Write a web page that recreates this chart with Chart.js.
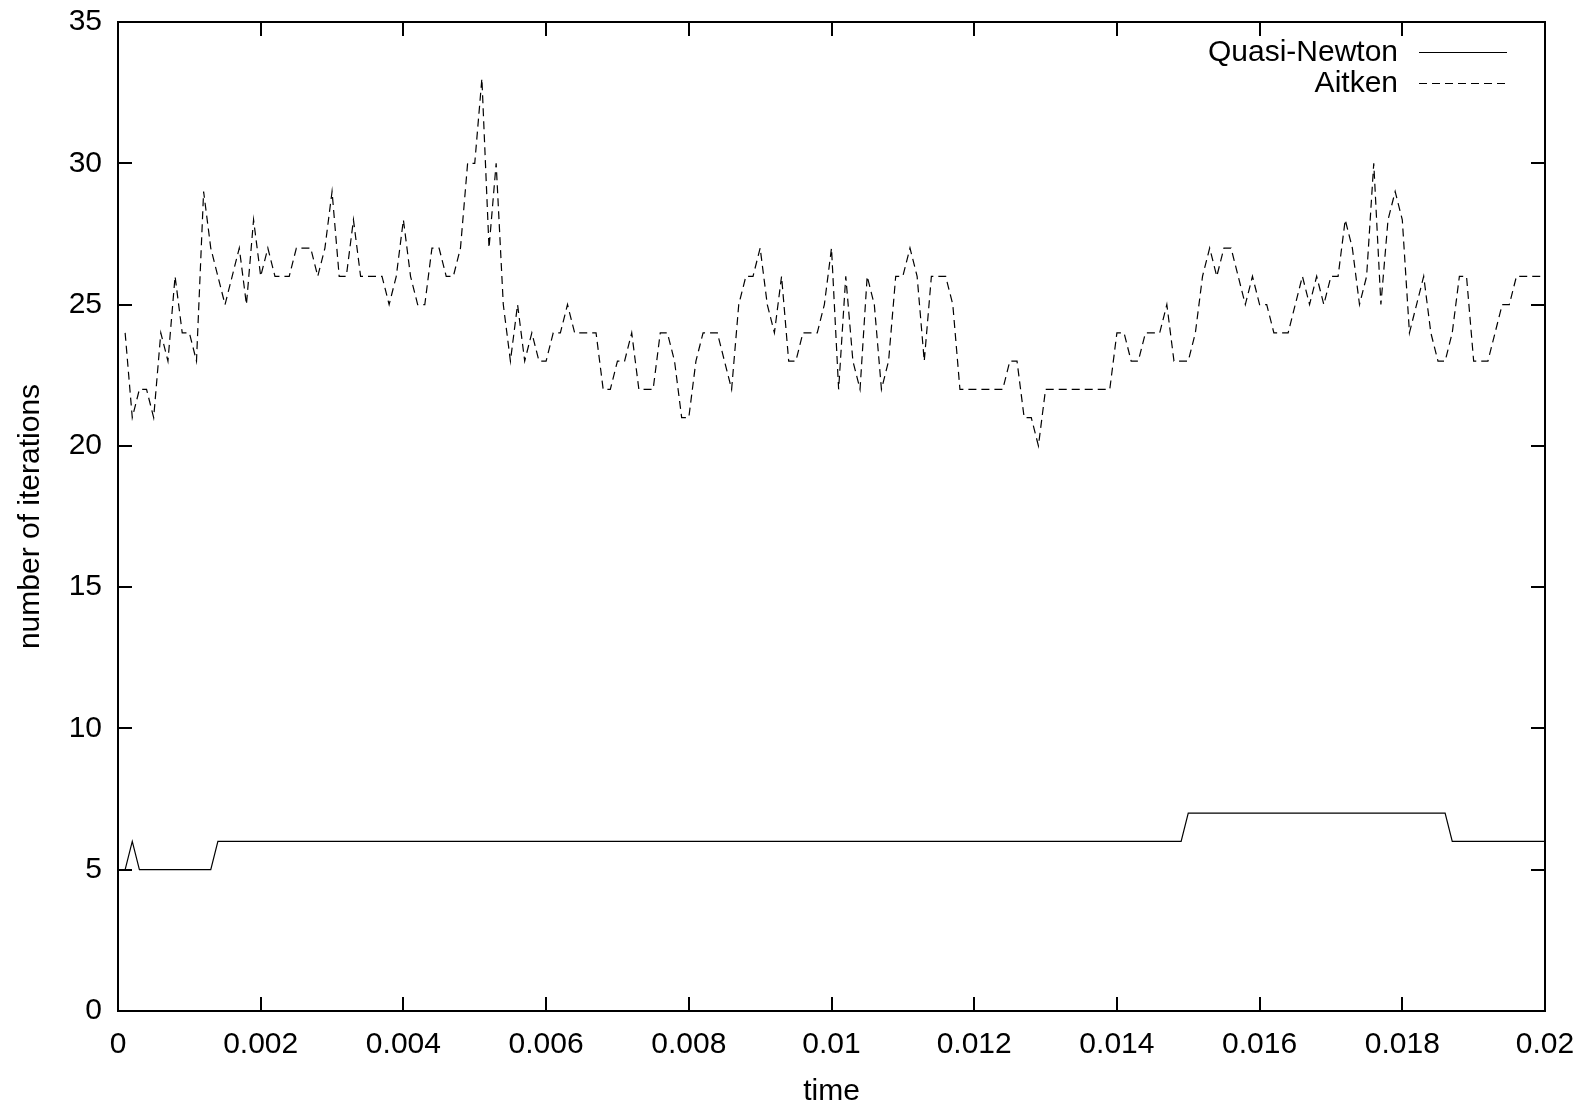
<!DOCTYPE html>
<html>
<head>
<meta charset="utf-8">
<script src="https://cdn.jsdelivr.net/npm/chart.js@4.4.1/dist/chart.umd.min.js"></script>
<style>
  html, body { margin: 0; padding: 0; background: #ffffff; }
  canvas { display: block; }
</style>
</head>
<body>
<canvas id="c" width="1590" height="1108"></canvas>
<script>
// ---- data ----
const seriesNames = ['Quasi-Newton', 'Aitken'];
const timeStep = 0.0001; // sampling interval of the time axis
const quasiNewton = [
  5,6,5,5,5,5,5,5,5,5,5,5,5,6,6,6,6,6,6,6,
  6,6,6,6,6,6,6,6,6,6,6,6,6,6,6,6,6,6,6,6,
  6,6,6,6,6,6,6,6,6,6,6,6,6,6,6,6,6,6,6,6,
  6,6,6,6,6,6,6,6,6,6,6,6,6,6,6,6,6,6,6,6,
  6,6,6,6,6,6,6,6,6,6,6,6,6,6,6,6,6,6,6,6,
  6,6,6,6,6,6,6,6,6,6,6,6,6,6,6,6,6,6,6,6,
  6,6,6,6,6,6,6,6,6,6,6,6,6,6,6,6,6,6,6,6,
  6,6,6,6,6,6,6,6,6,7,7,7,7,7,7,7,7,7,7,7,
  7,7,7,7,7,7,7,7,7,7,7,7,7,7,7,7,7,7,7,7,
  7,7,7,7,7,7,6,6,6,6,6,6,6,6,6,6,6,6,6,6
];
const aitken = [
  24,21,22,22,21,24,23,26,24,24,23,29,27,26,25,26,27,25,28,26,
  27,26,26,26,27,27,27,26,27,29,26,26,28,26,26,26,26,25,26,28,
  26,25,25,27,27,26,26,27,30,30,33,27,30,25,23,25,23,24,23,23,
  24,24,25,24,24,24,24,22,22,23,23,24,22,22,22,24,24,23,21,21,
  23,24,24,24,23,22,25,26,26,27,25,24,26,23,23,24,24,24,25,27,
  22,26,23,22,26,25,22,23,26,26,27,26,23,26,26,26,25,22,22,22,
  22,22,22,22,23,23,21,21,20,22,22,22,22,22,22,22,22,22,22,24,
  24,23,23,24,24,24,25,23,23,23,24,26,27,26,27,27,26,25,26,25,
  25,24,24,24,25,26,25,26,25,26,26,28,27,25,26,30,25,28,29,28,
  24,25,26,24,23,23,24,26,26,23,23,23,24,25,25,26,26,26,26,26
];
const xTickValues = [0, 0.002, 0.004, 0.006, 0.008, 0.01, 0.012, 0.014, 0.016, 0.018, 0.02];
const xTickLabels = ['0', '0.002', '0.004', '0.006', '0.008', '0.01', '0.012', '0.014', '0.016', '0.018', '0.02'];
const yTickValues = [0, 5, 10, 15, 20, 25, 30, 35];
const yTickLabels = ['0', '5', '10', '15', '20', '25', '30', '35'];
const xTitle = 'time';
const yTitle = 'number of iterations';

// ---- build ----
const toPoints = arr => arr.map((v, i) => ({ x: (i + 1) * timeStep, y: v }));
const FONT = '"Liberation Sans", Arial, Helvetica, sans-serif';
const TICK = 14;

const framePlugin = {
  id: 'gnuFrame',
  afterDatasetsDraw(chart) {
    const { ctx, chartArea: a, scales: { x, y } } = chart;
    ctx.save();
    ctx.strokeStyle = '#000';
    ctx.lineWidth = 2;
    ctx.beginPath();
    xTickValues.forEach(v => {
      const px = Math.round(x.getPixelForValue(v));
      ctx.moveTo(px, a.bottom); ctx.lineTo(px, a.bottom - TICK);
      ctx.moveTo(px, a.top); ctx.lineTo(px, a.top + TICK);
    });
    yTickValues.forEach(v => {
      const py = Math.round(y.getPixelForValue(v));
      ctx.moveTo(a.left, py); ctx.lineTo(a.left + TICK, py);
      ctx.moveTo(a.right, py); ctx.lineTo(a.right - TICK, py);
    });
    ctx.stroke();
    ctx.strokeRect(a.left, a.top, a.right - a.left, a.bottom - a.top);

    // gnuplot-style key (text right-aligned, sample to the right)
    ctx.font = '30px ' + FONT;
    ctx.textAlign = 'right';
    ctx.textBaseline = 'middle';
    ctx.fillStyle = '#000';
    chart.data.datasets.forEach((ds, k) => {
      const cy = a.top + 30 + k * 31;
      ctx.fillText(ds.label, a.right - 147, cy + 1);
      ctx.save();
      ctx.lineWidth = ds.borderWidth;
      ctx.strokeStyle = ds.borderColor;
      ctx.setLineDash(ds.borderDash || []);
      ctx.beginPath();
      ctx.moveTo(a.right - 126, cy + 0.5);
      ctx.lineTo(a.right - 38, cy + 0.5);
      ctx.stroke();
      ctx.restore();
    });
    ctx.restore();
  }
};

new Chart(document.getElementById('c'), {
  type: 'line',
  data: {
    datasets: [
      {
        label: seriesNames[0],
        data: toPoints(quasiNewton),
        borderColor: '#000',
        borderWidth: 1.2,
        pointRadius: 0,
        tension: 0,
        fill: false
      },
      {
        label: seriesNames[1],
        data: toPoints(aitken),
        borderColor: '#000',
        borderWidth: 1.2,
        borderDash: [8, 5],
        pointRadius: 0,
        tension: 0,
        fill: false
      }
    ]
  },
  options: {
    responsive: false,
    animation: false,
    devicePixelRatio: 1,
    layout: { padding: { top: 22, right: 45, left: 0, bottom: 0 } },
    plugins: {
      legend: { display: false },
      tooltip: { enabled: false }
    },
    scales: {
      x: {
        type: 'linear',
        min: 0,
        max: 0.02,
        border: { display: false },
        grid: { display: false, drawTicks: false },
        afterBuildTicks: s => { s.ticks = xTickValues.map(v => ({ value: v })); },
        afterFit: s => { s.height = 97; s.paddingLeft = 0; s.paddingRight = 0; },
        ticks: {
          autoSkip: false,
          maxRotation: 0,
          padding: 16,
          color: '#000',
          font: { family: FONT, size: 30 },
          callback: (v, i) => xTickLabels[i]
        },
        title: {
          display: true,
          text: xTitle,
          color: '#000',
          font: { family: FONT, size: 30 },
          padding: { top: 0, bottom: -2 }
        }
      },
      y: {
        type: 'linear',
        min: 0,
        max: 35,
        border: { display: false },
        grid: { display: false, drawTicks: false },
        afterBuildTicks: s => { s.ticks = yTickValues.map(v => ({ value: v })); },
        afterFit: s => { s.width = 118; s.paddingTop = 0; s.paddingBottom = 0; },
        ticks: {
          autoSkip: false,
          padding: 16,
          color: '#000',
          font: { family: FONT, size: 30 },
          callback: (v, i) => yTickLabels[i]
        },
        title: {
          display: true,
          text: yTitle,
          color: '#000',
          font: { family: FONT, size: 30 },
          padding: { top: 13, bottom: 0 }
        }
      }
    }
  },
  plugins: [framePlugin]
});
</script>
</body>
</html>
